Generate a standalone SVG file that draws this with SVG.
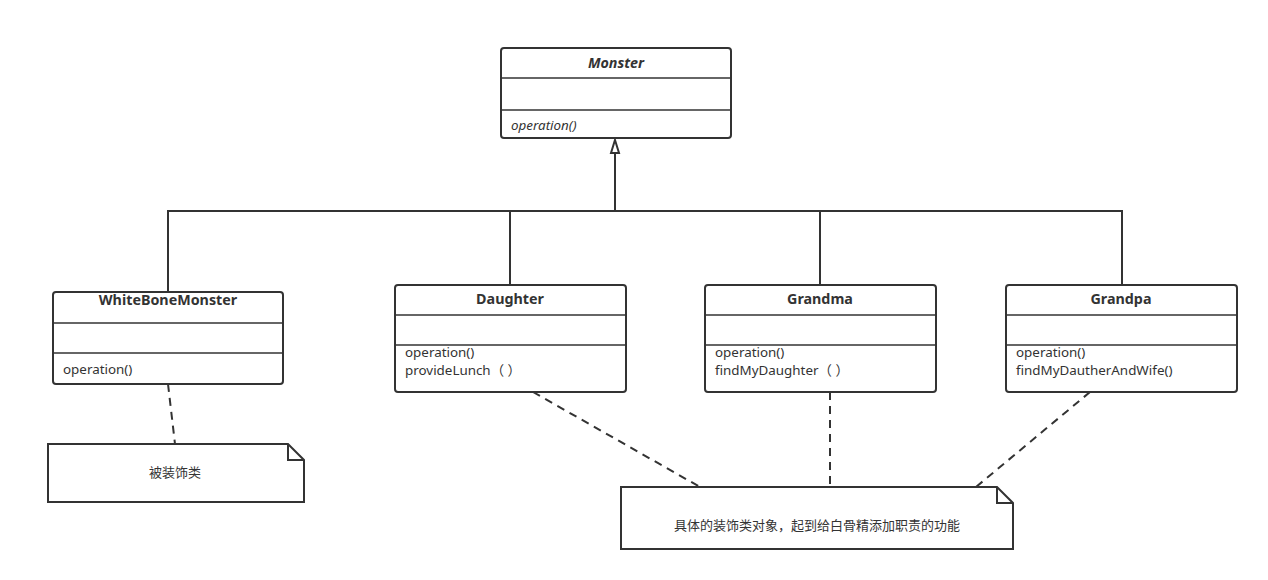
<svg xmlns="http://www.w3.org/2000/svg" width="1268" height="580" viewBox="0 0 1268 580">
<style>
.box{fill:#fff;stroke:#333;stroke-width:2}
.div{stroke:#333;stroke-width:1.6}
.ln{fill:none;stroke:#333;stroke-width:2}
.dash{fill:none;stroke:#333;stroke-width:2;stroke-dasharray:8 6}
text{font-family:"Noto Sans","Noto Sans CJK SC",sans-serif;font-size:13.4px;fill:#333}
.t{font-weight:bold;text-anchor:middle;font-size:14.3px}
.c{text-anchor:middle;font-size:13px}
</style>
<g id="connectors">
<path class="ln" d="M615,211 L615,153"/>
<path d="M615,140 L619,153 L611,153 Z" fill="#fff" stroke="#333" stroke-width="2"/>
<path class="ln" d="M168,292 L168,211 L1122,211 L1122,285"/>
<path class="ln" d="M510,211 L510,285"/>
<path class="ln" d="M820,211 L820,285"/>
<path class="dash" d="M168,384 L175,444"/>
<path class="dash" d="M533,392 L700,487"/>
<path class="dash" d="M830,392 L830,485"/>
<path class="dash" d="M1090,392 L976,487"/>
</g>
<g id="Monster">
<rect class="box" x="501" y="48" width="230" height="90" rx="3"/>
<line class="div" x1="501" y1="78" x2="731" y2="78"/>
<line class="div" x1="501" y1="110" x2="731" y2="110"/>
<text class="t" x="616" y="68" font-style="italic">Monster</text>
<text x="511" y="130" font-style="italic">operation()</text>
</g>
<g id="WhiteBoneMonster">
<rect class="box" x="53" y="292" width="230" height="92" rx="3"/>
<line class="div" x1="53" y1="323" x2="283" y2="323"/>
<line class="div" x1="53" y1="353" x2="283" y2="353"/>
<text class="t" x="168" y="305">WhiteBoneMonster</text>
<text x="63" y="374">operation()</text>
</g>
<g id="Daughter">
<rect class="box" x="395" y="285" width="231" height="107" rx="3"/>
<line class="div" x1="395" y1="315" x2="626" y2="315"/>
<line class="div" x1="395" y1="345" x2="626" y2="345"/>
<text class="t" x="510" y="304">Daughter</text>
<text x="405" y="357">operation()</text>
<text x="405" y="375">provideLunch（ ）</text>
</g>
<g id="Grandma">
<rect class="box" x="705" y="285" width="231" height="107" rx="3"/>
<line class="div" x1="705" y1="315" x2="936" y2="315"/>
<line class="div" x1="705" y1="345" x2="936" y2="345"/>
<text class="t" x="820" y="304">Grandma</text>
<text x="715" y="357">operation()</text>
<text x="715" y="375">findMyDaughter（ ）</text>
</g>
<g id="Grandpa">
<rect class="box" x="1006" y="285" width="231" height="107" rx="3"/>
<line class="div" x1="1006" y1="315" x2="1237" y2="315"/>
<line class="div" x1="1006" y1="345" x2="1237" y2="345"/>
<text class="t" x="1121" y="304">Grandpa</text>
<text x="1016" y="357">operation()</text>
<text x="1016" y="375">findMyDautherAndWife()</text>
</g>
<g id="note1">
<path class="box" d="M48,444 L288,444 L304,460 L304,502 L48,502 Z"/>
<path class="ln" d="M288,444 L288,460 L304,460"/>
<text class="c" x="175" y="477">被装饰类</text>
</g>
<g id="note2">
<path class="box" d="M621,487 L997,487 L1013,503 L1013,549 L621,549 Z"/>
<path class="ln" d="M997,487 L997,503 L1013,503"/>
<text class="c" x="817" y="530">具体的装饰类对象，起到给白骨精添加职责的功能</text>
</g>
</svg>
